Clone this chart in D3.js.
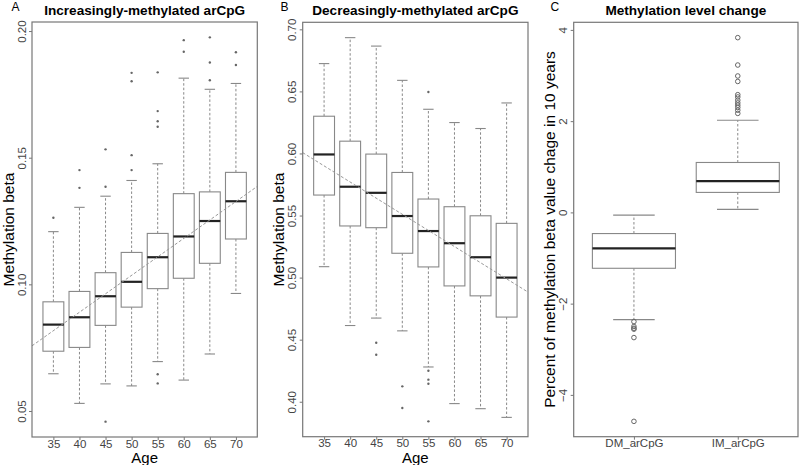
<!DOCTYPE html>
<html>
<head>
<meta charset="utf-8">
<script src="https://cdn.jsdelivr.net/npm/d3@7"></script>
<style>
  body { margin: 0; background: #fff; }
  svg text { font-family: "Liberation Sans", Arial, Helvetica, sans-serif; }
</style>
</head>
<body>
<svg id="chart" width="800" height="465"></svg>
<script>
// ---------------- DATA ----------------
const ages = ["35", "40", "45", "50", "55", "60", "65", "70"];

// Panel A: Increasingly-methylated arCpG
const lowWhiskA = [0.0647, 0.0530, 0.0607, 0.0599, 0.0695, 0.0622, 0.0725, 0.0964];
const q1A       = [0.0736, 0.0751, 0.0838, 0.0910, 0.0983, 0.1024, 0.1083, 0.1179];
const medianA   = [0.0841, 0.0870, 0.0953, 0.1010, 0.1107, 0.1189, 0.1250, 0.1328];
const q3A       = [0.0931, 0.0972, 0.1046, 0.1126, 0.1201, 0.1358, 0.1365, 0.1442];
const upWhiskA  = [0.1208, 0.1304, 0.1348, 0.1410, 0.1476, 0.1814, 0.1770, 0.1793];
const outliersA = [
  [0.1263],
  [0.1451, 0.1381],
  [0.1533, 0.1385, 0.0458],
  [0.1835, 0.1802, 0.1510, 0.1451],
  [0.1837, 0.1684, 0.1644, 0.1622, 0.0645, 0.0609],
  [0.1964, 0.1918],
  [0.1975, 0.1876, 0.1806],
  [0.1916, 0.1866]
];
const trendA = [0.0817, 0.1327];   // fitted values at age 35 and 70
const yTicksA = [0.05, 0.10, 0.15, 0.20];

// Panel B: Decreasingly-methylated arCpG
const lowWhiskB = [0.5088, 0.4614, 0.4674, 0.4571, 0.4280, 0.3985, 0.3944, 0.3874];
const q1B       = [0.5665, 0.5416, 0.5402, 0.5196, 0.5086, 0.4933, 0.4853, 0.4682];
const medianB   = [0.5992, 0.5732, 0.5683, 0.5496, 0.5375, 0.5277, 0.5164, 0.5000];
const q3B       = [0.6300, 0.6099, 0.5995, 0.5847, 0.5633, 0.5571, 0.5498, 0.5437];
const upWhiskB  = [0.6724, 0.6933, 0.6865, 0.6589, 0.6356, 0.6249, 0.6201, 0.6407];
const outliersB = [
  [],
  [],
  [0.4475, 0.4379],
  [0.4124, 0.3950],
  [0.6495, 0.4250, 0.4178, 0.4145, 0.3842],
  [],
  [],
  []
];
const trendB = [0.5900, 0.4990];
const yTicksB = [0.40, 0.45, 0.50, 0.55, 0.60, 0.65, 0.70];

// Panel C: Methylation level change
const groupsC   = ["DM_arCpG", "IM_arCpG"];
const lowWhiskC = [-2.35, 0.066];
const q1C       = [-1.225, 0.438];
const medianC   = [-0.788, 0.685];
const q3C       = [-0.464, 1.094];
const upWhiskC  = [-0.06, 2.02];
const outliersC = [
  [-2.394, -2.50, -2.54, -2.56, -2.744, -4.58],
  [3.83, 3.23, 2.99, 2.87, 2.58, 2.53, 2.46, 2.40, 2.35, 2.30, 2.24, 2.17]
];
const yTicksC = [-4, -2, 0, 2, 4];

// ---------------- DRAWING ----------------
const svg = d3.select("#chart");

function drawPanel(cfg) {
  const n = cfg.cats.length;
  const g = svg.append("g");

  // R-style axis extents: 4% padding
  const all = [].concat(cfg.low, cfg.up, cfg.outliers.flat());
  const [mn, mx] = d3.extent(all);
  const pad = (mx - mn) * 0.04;
  const y = d3.scaleLinear().domain([mn - pad, mx + pad]).range([cfg.bottom, cfg.top]);
  const xPad = n * 0.04;
  const x = d3.scaleLinear().domain([0.5 - xPad, n + 0.5 + xPad]).range([cfg.left, cfg.right]);
  const unit = x(2) - x(1);
  const bw = unit * 0.8;

  const idx = d3.range(n);
  const bx = g.selectAll("g.box").data(idx).join("g").attr("class", "box");

  // whiskers (dashed)
  bx.append("line")
    .attr("x1", i => x(i + 1)).attr("x2", i => x(i + 1))
    .attr("y1", i => y(cfg.q3[i])).attr("y2", i => y(cfg.up[i]))
    .attr("stroke", "#888").attr("stroke-dasharray", "2.5,2");
  bx.append("line")
    .attr("x1", i => x(i + 1)).attr("x2", i => x(i + 1))
    .attr("y1", i => y(cfg.q1[i])).attr("y2", i => y(cfg.low[i]))
    .attr("stroke", "#888").attr("stroke-dasharray", "2.5,2");
  // staples
  [cfg.up, cfg.low].forEach(arr => {
    bx.append("line")
      .attr("x1", i => x(i + 1) - bw / 4).attr("x2", i => x(i + 1) + bw / 4)
      .attr("y1", i => y(arr[i])).attr("y2", i => y(arr[i]))
      .attr("stroke", "#888").attr("stroke-width", 1.1);
  });
  // box
  bx.append("rect")
    .attr("x", i => x(i + 1) - bw / 2).attr("width", bw)
    .attr("y", i => y(cfg.q3[i])).attr("height", i => y(cfg.q1[i]) - y(cfg.q3[i]))
    .attr("fill", "#fff").attr("stroke", "#888").attr("stroke-width", 1.1);
  // median
  bx.append("line")
    .attr("x1", i => x(i + 1) - bw / 2).attr("x2", i => x(i + 1) + bw / 2)
    .attr("y1", i => y(cfg.med[i])).attr("y2", i => y(cfg.med[i]))
    .attr("stroke", "#222").attr("stroke-width", 2.2);
  // outliers
  bx.each(function (i) {
    const sel = d3.select(this).selectAll("circle").data(cfg.outliers[i]).join("circle")
      .attr("cx", x(i + 1)).attr("cy", d => y(d));
    if (cfg.openPts) {
      sel.attr("r", 2.3).attr("fill", "none").attr("stroke", "#666").attr("stroke-width", 1);
    } else {
      sel.attr("r", 1.2).attr("fill", "#666");
    }
  });

  // trend line (drawn over the boxes)
  if (cfg.trend) {
    const [d0, d1] = x.domain();
    const fit = i => cfg.trend[0] + (cfg.trend[1] - cfg.trend[0]) * (i - 1) / (n - 1);
    g.append("line")
      .attr("x1", x(d0)).attr("y1", y(fit(d0)))
      .attr("x2", x(d1)).attr("y2", y(fit(d1)))
      .attr("stroke", "#999").attr("stroke-width", 1).attr("stroke-dasharray", "3,2");
  }

  // frame
  g.append("rect")
    .attr("x", cfg.left).attr("y", cfg.top)
    .attr("width", cfg.right - cfg.left).attr("height", cfg.bottom - cfg.top)
    .attr("fill", "none").attr("stroke", "#777").attr("stroke-width", 1.2);

  // y axis
  const ya = g.append("g").attr("transform", `translate(${cfg.left},0)`)
    .call(d3.axisLeft(y).tickValues(cfg.yTicks).tickSize(3).tickFormat(cfg.yFmt));
  ya.select(".domain").remove();
  ya.selectAll(".tick line").attr("stroke", "#777");
  ya.selectAll(".tick text")
    .attr("x", 0).attr("y", -6.5).attr("dy", 0)
    .attr("transform", "rotate(-90)")
    .attr("text-anchor", "middle")
    .attr("font-size", 11.5).attr("fill", "#444");

  // x axis
  const xa = g.append("g").attr("transform", `translate(0,${cfg.bottom})`)
    .call(d3.axisBottom(x).tickValues(d3.range(1, n + 1)).tickSize(3).tickFormat(d => cfg.cats[d - 1]));
  xa.select(".domain").remove();
  xa.selectAll(".tick line").attr("stroke", "#777");
  xa.selectAll(".tick text").attr("y", 10.5).attr("dy", 0).attr("font-size", 11.5).attr("fill", "#444");

  const cx = (cfg.left + cfg.right) / 2, cy = (cfg.top + cfg.bottom) / 2;
  // title
  g.append("text").attr("x", cx).attr("y", 15).attr("text-anchor", "middle")
    .attr("font-size", 13.6).attr("font-weight", "bold").text(cfg.title);
  // panel letter
  g.append("text").attr("x", cfg.letterX).attr("y", 11).attr("font-size", 12).text(cfg.letter);
  // y title
  g.append("text").attr("transform", `translate(${cfg.yTitleX},${cy}) rotate(-90)`)
    .attr("text-anchor", "middle").attr("font-size", 15.5).text(cfg.yTitle);
  // x title
  if (cfg.xTitle) {
    g.append("text").attr("x", cx).attr("y", 463).attr("text-anchor", "middle")
      .attr("font-size", 15).text(cfg.xTitle);
  }
}

drawPanel({
  cats: ages, low: lowWhiskA, q1: q1A, med: medianA, q3: q3A, up: upWhiskA, outliers: outliersA,
  trend: trendA, yTicks: yTicksA, yFmt: d3.format(".2f"),
  left: 32, right: 257.3, top: 22, bottom: 437,
  title: "Increasingly-methylated arCpG", letter: "A", letterX: 11.5,
  yTitle: "Methylation beta", yTitleX: 13.5, xTitle: "Age", openPts: false
});

drawPanel({
  cats: ages, low: lowWhiskB, q1: q1B, med: medianB, q3: q3B, up: upWhiskB, outliers: outliersB,
  trend: trendB, yTicks: yTicksB, yFmt: d3.format(".2f"),
  left: 302.7, right: 528, top: 22.3, bottom: 436.7,
  title: "Decreasingly-methylated arCpG", letter: "B", letterX: 280.5,
  yTitle: "Methylation beta", yTitleX: 283.5, xTitle: "Age", openPts: false
});

drawPanel({
  cats: groupsC, low: lowWhiskC, q1: q1C, med: medianC, q3: q3C, up: upWhiskC, outliers: outliersC,
  trend: null, yTicks: yTicksC, yFmt: d3.format("d"),
  left: 573.7, right: 798, top: 22.3, bottom: 436.7,
  title: "Methylation level change", letter: "C", letterX: 550.5,
  yTitle: "Percent of methylation beta value chage in 10 years", yTitleX: 554.5, xTitle: null, openPts: true
});
</script>
</body>
</html>
